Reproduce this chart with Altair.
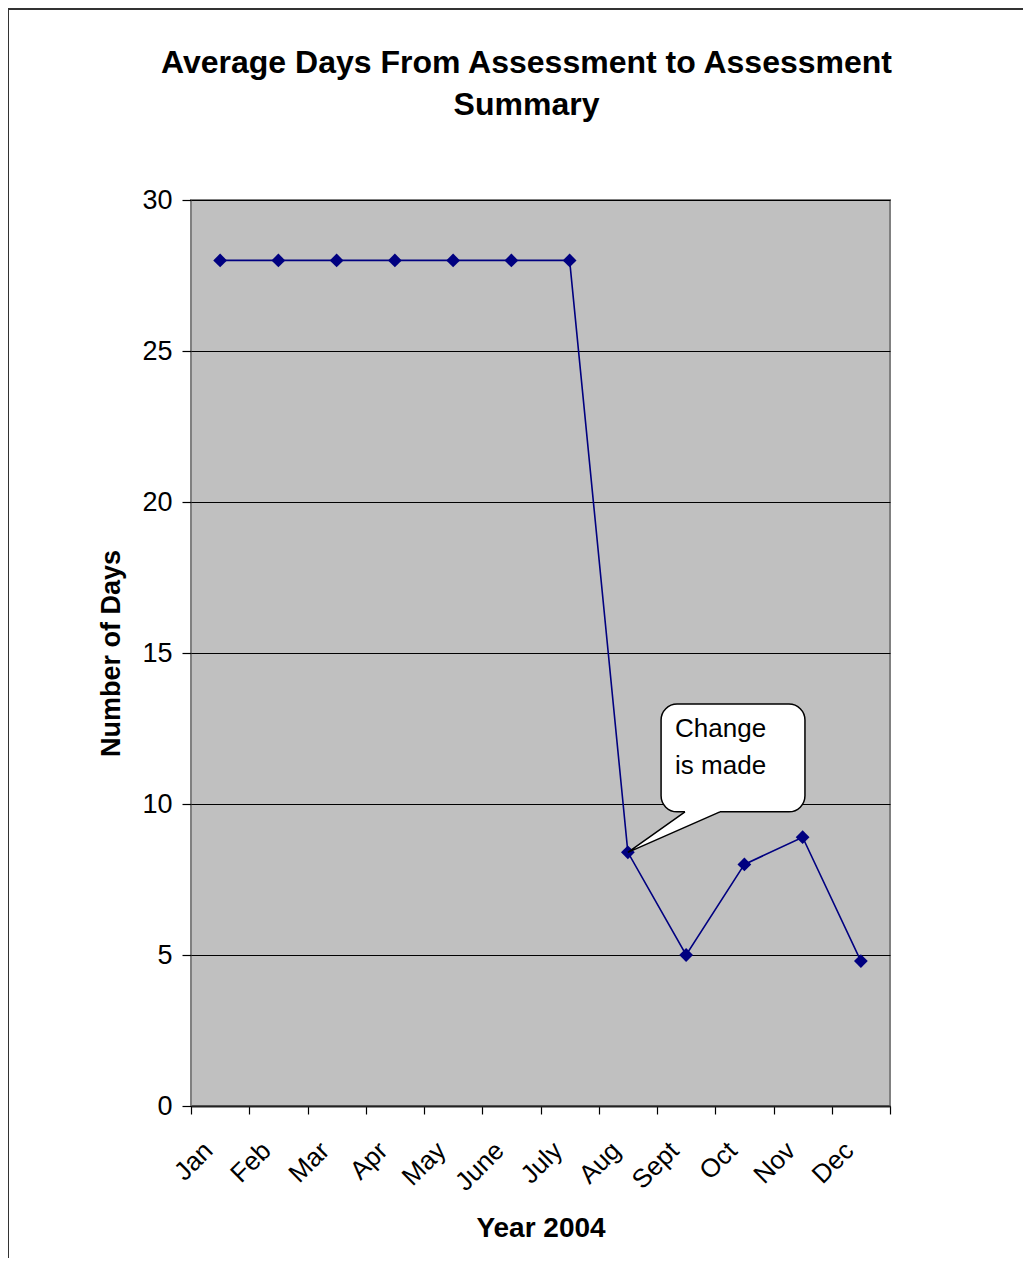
import altair as alt
import pandas as pd

months = ["Jan", "Feb", "Mar", "Apr", "May", "June", "July", "Aug", "Sept", "Oct", "Nov", "Dec"]
days = [28, 28, 28, 28, 28, 28, 28, 8.4, 5, 8, 8.9, 4.8]

title_lines = ["Average Days From Assessment to Assessment", "Summary"]
x_title = "Year 2004"
y_title = "Number of Days"
callout_text = ["Change", "is made"]

# callout geometry in data units (x: month slots, y: days)
box_x = [8.07, 10.54]
box_y = [9.74, 13.31]
tail_x = [7.5, 8.48, 8.50, 9.06, 9.08]
tail_top = [8.4, 9.74, 9.95, 9.95, 9.74]
tail_bot = [8.4, 9.23, 9.25, 9.72, 9.74]
edge_x = [8.48, 7.5, 9.08]
edge_y = [9.74, 8.4, 9.74]
text_pos = [8.31, 12.9]

W, H = 699, 906
FONT = "Liberation Sans"

df = pd.DataFrame({"month": months, "idx": list(range(len(months))), "days": days})
df["pos"] = df["idx"] + 0.5

xscale = alt.Scale(domain=[0, 12], nice=False, zero=False)
yscale = alt.Scale(domain=[0, 30], nice=False)

label_js = "[" + ",".join("'%s'" % m for m in months) + "]"

xaxis = alt.Axis(
    values=list(range(13)), title=x_title, labelExpr=label_js + "[datum.value] || ''",
    labelAngle=315, labelAlign="right", labelBaseline="top", labelOffset=8, labelPadding=23,
    labelOverlap=False, labelFlush=False,
    labelFont=FONT, labelFontSize=26, labelColor="black",
    tickSize=8, tickColor="black", tickWidth=1.2,
    domainColor="#222", domainWidth=2, grid=False,
    titleFont=FONT, titleFontSize=28, titleFontWeight="bold", titleColor="black", titlePadding=19,
)
yaxis = alt.Axis(
    values=[0, 5, 10, 15, 20, 25, 30], title=y_title,
    labelFont=FONT, labelFontSize=27, labelColor="black", labelPadding=10,
    tickSize=9, tickColor="black", tickWidth=1.2, domain=False,
    grid=True, gridColor="black", gridWidth=1,
    titleFont=FONT, titleFontSize=27, titleFontWeight="bold", titleColor="black", titlePadding=16,
)

one = pd.DataFrame({"a": [0]})

frame = alt.Chart(one).mark_rect(fill=None, stroke="#333", strokeWidth=2).encode(
    x=alt.value(-183), x2=alt.value(W + 300), y=alt.value(-191), y2=alt.value(H + 400)
)

title = alt.Chart(one).mark_text(
    text=title_lines, align="center", baseline="alphabetic", font=FONT, fontSize=32,
    fontWeight="bold", lineHeight=42, color="black"
).encode(x=alt.value(W / 2 - 14), y=alt.value(-127))

line = alt.Chart(df).mark_line(color="#000080", strokeWidth=1.6).encode(
    x=alt.X("pos:Q", scale=xscale, axis=xaxis),
    y=alt.Y("days:Q", scale=yscale, axis=yaxis),
)
pts = alt.Chart(df).mark_point(shape="diamond", filled=True, color="#000080", size=190, opacity=1).encode(
    x=alt.X("pos:Q", scale=xscale), y=alt.Y("days:Q", scale=yscale)
)

box_df = pd.DataFrame({"x": [box_x[0]], "x2": [box_x[1]], "y": [box_y[0]], "y2": [box_y[1]]})
box = alt.Chart(box_df).mark_rect(fill="white", stroke="black", strokeWidth=1.5, cornerRadius=16).encode(
    x=alt.X("x:Q", scale=xscale), x2="x2:Q", y=alt.Y("y:Q", scale=yscale), y2="y2:Q"
)
tail_df = pd.DataFrame({"x": tail_x, "t": tail_top, "b": tail_bot})
tail = alt.Chart(tail_df).mark_area(color="white", opacity=1).encode(
    x=alt.X("x:Q", scale=xscale), y=alt.Y("t:Q", scale=yscale), y2="b:Q"
)
edge_df = pd.DataFrame({"x": edge_x, "y": edge_y, "o": [0, 1, 2]})
edge = alt.Chart(edge_df).mark_line(color="black", strokeWidth=1.5).encode(
    x=alt.X("x:Q", scale=xscale), y=alt.Y("y:Q", scale=yscale), order="o:O"
)
txt_df = pd.DataFrame({"x": [text_pos[0]], "y": [text_pos[1]]})
txt = alt.Chart(txt_df).mark_text(
    text=callout_text, align="left", baseline="top", font=FONT, fontSize=26, lineHeight=37, color="black"
).encode(x=alt.X("x:Q", scale=xscale), y=alt.Y("y:Q", scale=yscale))

chart = alt.layer(frame, title, line, pts, box, tail, edge, txt).properties(
    width=W, height=H,
    autosize=alt.AutoSizeParams(type="none"),
    padding={"left": 183, "top": 192, "right": 133, "bottom": 152},
    background="white",
).configure_view(
    fill="#C0C0C0", stroke="#808080", strokeWidth=2
)

chart.save("out.html", embed_options={"renderer": "svg", "actions": False})
